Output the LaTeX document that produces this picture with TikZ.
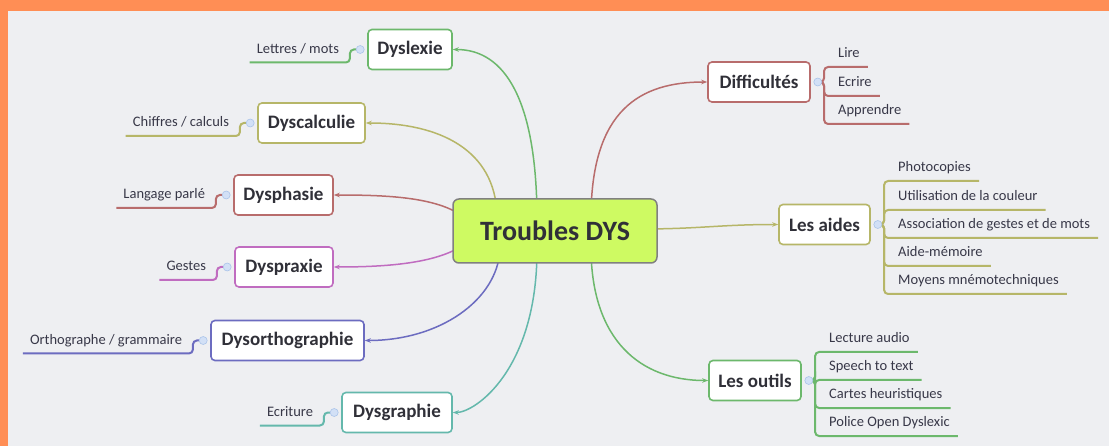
\documentclass[tikz,border=0pt]{standalone}
\usepackage{fontspec}
\setmainfont{Carlito}
\usetikzlibrary{arrows.meta}
\pgfdeclarelayer{bg}
\pgfdeclarelayer{links}
\pgfsetlayers{bg,links,main}
\definecolor{cgreen}{RGB}{108,184,108}
\definecolor{colive}{RGB}{182,182,104}
\definecolor{cred}{RGB}{184,108,108}
\definecolor{cpurple}{RGB}{192,108,192}
\definecolor{cblue}{RGB}{108,108,192}
\definecolor{cteal}{RGB}{100,184,172}
\definecolor{corange}{RGB}{255,142,85}
\definecolor{cbg}{RGB}{238,239,242}
\definecolor{clime}{RGB}{206,250,98}
\definecolor{cgrayb}{RGB}{128,128,128}
\definecolor{ctext}{RGB}{48,48,56}
\definecolor{cleaf}{RGB}{56,56,72}
\definecolor{cknobfill}{RGB}{210,224,246}
\definecolor{cknobdraw}{RGB}{170,196,234}
\tikzset{
  rootbox/.style={draw=cgrayb, fill=clime, rounded corners=6pt, line width=1.5pt,
    minimum width=204pt, minimum height=64pt, inner sep=0pt,
    font=\fontsize{28}{32}\selectfont\bfseries, text=ctext},
  topic/.style={draw=#1, fill=white, rounded corners=4pt, line width=1.6pt,
    minimum height=40pt, inner xsep=0pt, inner ysep=0pt,
    font=\fontsize{19}{22}\selectfont\bfseries, text=ctext},
  knob/.style={circle, draw=cknobdraw, fill=cknobfill, minimum size=8pt,
    inner sep=0pt, line width=0.6pt},
  leaf/.style={font=\fontsize{14.5}{17}\selectfont, text=cleaf, text height=10pt,
    text depth=4pt, inner ysep=5pt, inner xsep=7pt},
  rleaf/.style={leaf, anchor=south west, inner xsep=8pt},
  linkc/.style={draw=#1, line width=1.5pt, -{Stealth[length=6pt,width=4.5pt]}},
  twig/.style={draw=#1, line width=2pt, rounded corners=4pt}
}
\begin{document}
\begin{tikzpicture}[x=1pt, y=-1pt]
\begin{pgfonlayer}{bg}
\fill[corange] (0,0) rectangle (1109,446);
\fill[cbg] (8,11) rectangle (1109,446);
\end{pgfonlayer}
\useasboundingbox (0,0) rectangle (1109,446);

% root
\node[rootbox] (C) at (555,231) {Troubles DYS};

% left topics
\node[topic=cgreen, minimum width=84pt] (DL) at (410,49.5) {Dyslexie};
\node[topic=colive, minimum width=107pt] (DC) at (311.5,123) {Dyscalculie};
\node[topic=cred, minimum width=99pt] (DP) at (283.5,195) {Dysphasie};
\node[topic=cpurple, minimum width=98pt] (DX) at (284,267) {Dyspraxie};
\node[topic=cblue, minimum width=153pt] (DO) at (287.5,340.5) {Dysorthographie};
\node[topic=cteal, minimum width=110pt] (DG) at (397,412.5) {Dysgraphie};

% right topics
\node[topic=cred, minimum width=102pt] (DF) at (759,82) {Difficultés};
\node[topic=colive, minimum width=91pt] (LA) at (824.5,224.5) {Les aides};
\node[topic=cgreen, minimum width=92pt] (LO) at (755,380.5) {Les outils};

% knobs
\foreach \n in {DL,DC,DP,DX,DO,DG}{
  \node[knob] (k\n) at ([xshift=-7pt]\n.west) {};
}
\foreach \n in {DF,LA,LO}{
  \node[knob] (k\n) at ([xshift=7pt]\n.east) {};
}

% left leaves
\node[leaf, anchor=south east] (lDL) at ([xshift=-14pt,yshift=-13pt]kDL.center) {Lettres / mots};
\node[leaf, anchor=south east] (lDC) at ([xshift=-14pt,yshift=-13pt]kDC.center) {Chiffres / calculs};
\node[leaf, anchor=south east] (lDP) at ([xshift=-14pt,yshift=-13pt]kDP.center) {Langage parlé};
\node[leaf, anchor=south east] (lDX) at ([xshift=-14pt,yshift=-13pt]kDX.center) {Gestes};
\node[leaf, anchor=south east] (lDO) at ([xshift=-14pt,yshift=-13pt]kDO.center) {Orthographe / grammaire};
\node[leaf, anchor=south east] (lDG) at ([xshift=-14pt,yshift=-13pt]kDG.center) {Ecriture};

% right leaves: Difficultés
\node[rleaf] (f1) at (830,67) {Lire};
\node[rleaf] (f2) at (830,96) {Ecrire};
\node[rleaf] (f3) at (830,124) {Apprendre};
% Les aides
\node[rleaf] (a1) at (890,181) {Photocopies};
\node[rleaf] (a2) at (890,210) {Utilisation de la couleur};
\node[rleaf] (a3) at (890,238) {Association de gestes et de mots};
\node[rleaf] (a4) at (890,266) {Aide-mémoire};
\node[rleaf] (a5) at (890,294) {Moyens mnémotechniques};
% Les outils
\node[rleaf] (o1) at (821,352) {Lecture audio};
\node[rleaf] (o2) at (821,380) {Speech to text};
\node[rleaf] (o3) at (821,408) {Cartes heuristiques};
\node[rleaf] (o4) at (821,436) {Police Open Dyslexic};

% start points hidden under the root
\coordinate (s1) at (537,215);
\coordinate (s2) at (497,215);
\coordinate (s3) at (470,222);
\coordinate (s4) at (470,240);
\coordinate (s5) at (500,250);
\coordinate (s6) at (537,250);
\coordinate (s7) at (591,215);
\coordinate (s8) at (640,229);
\coordinate (s9) at (591,250);

\begin{pgfonlayer}{links}
\draw[linkc=cgreen] (s1) .. controls (536,100) and (505,49.5) .. (DL.east);
\draw[linkc=colive] (s2) .. controls (495,150) and (440,123) .. (DC.east);
\draw[linkc=cred] (s3) .. controls (445,198) and (395,195) .. (DP.east);
\draw[linkc=cpurple] (s4) .. controls (445,262) and (395,267) .. (DX.east);
\draw[linkc=cblue] (s5) .. controls (497,300) and (440,340.5) .. (DO.east);
\draw[linkc=cteal] (s6) .. controls (537,370) and (475,412.5) .. (DG.east);
\draw[linkc=cred] (s7) .. controls (592,110) and (640,82) .. (DF.west);
\draw[linkc=colive] (s8) .. controls (700,229) and (720,224.5) .. (LA.west);
\draw[linkc=cgreen] (s9) .. controls (592,340) and (640,380.5) .. (LO.west);

% twigs left
\draw[twig=cgreen] (kDL.west) -- ++(-6,0) |- (lDL.south west);
\draw[twig=colive] (kDC.west) -- ++(-6,0) |- (lDC.south west);
\draw[twig=cred] (kDP.west) -- ++(-6,0) |- (lDP.south west);
\draw[twig=cpurple] (kDX.west) -- ++(-6,0) |- (lDX.south west);
\draw[twig=cblue] (kDO.west) -- ++(-6,0) |- (lDO.south west);
\draw[twig=cteal] (kDG.west) -- ++(-6,0) |- (lDG.south west);

% twigs right
\foreach \l in {f1,f2,f3}{
  \draw[twig=cred] (kDF.east) -- ++(2,0) |- (\l.south east);
}
\foreach \l in {a1,a2,a3,a4,a5}{
  \draw[twig=colive] (kLA.east) -- ++(2,0) |- (\l.south east);
}
\foreach \l in {o1,o2,o3,o4}{
  \draw[twig=cgreen] (kLO.east) -- ++(2,0) |- (\l.south east);
}
\end{pgfonlayer}
\end{tikzpicture}
\end{document}
